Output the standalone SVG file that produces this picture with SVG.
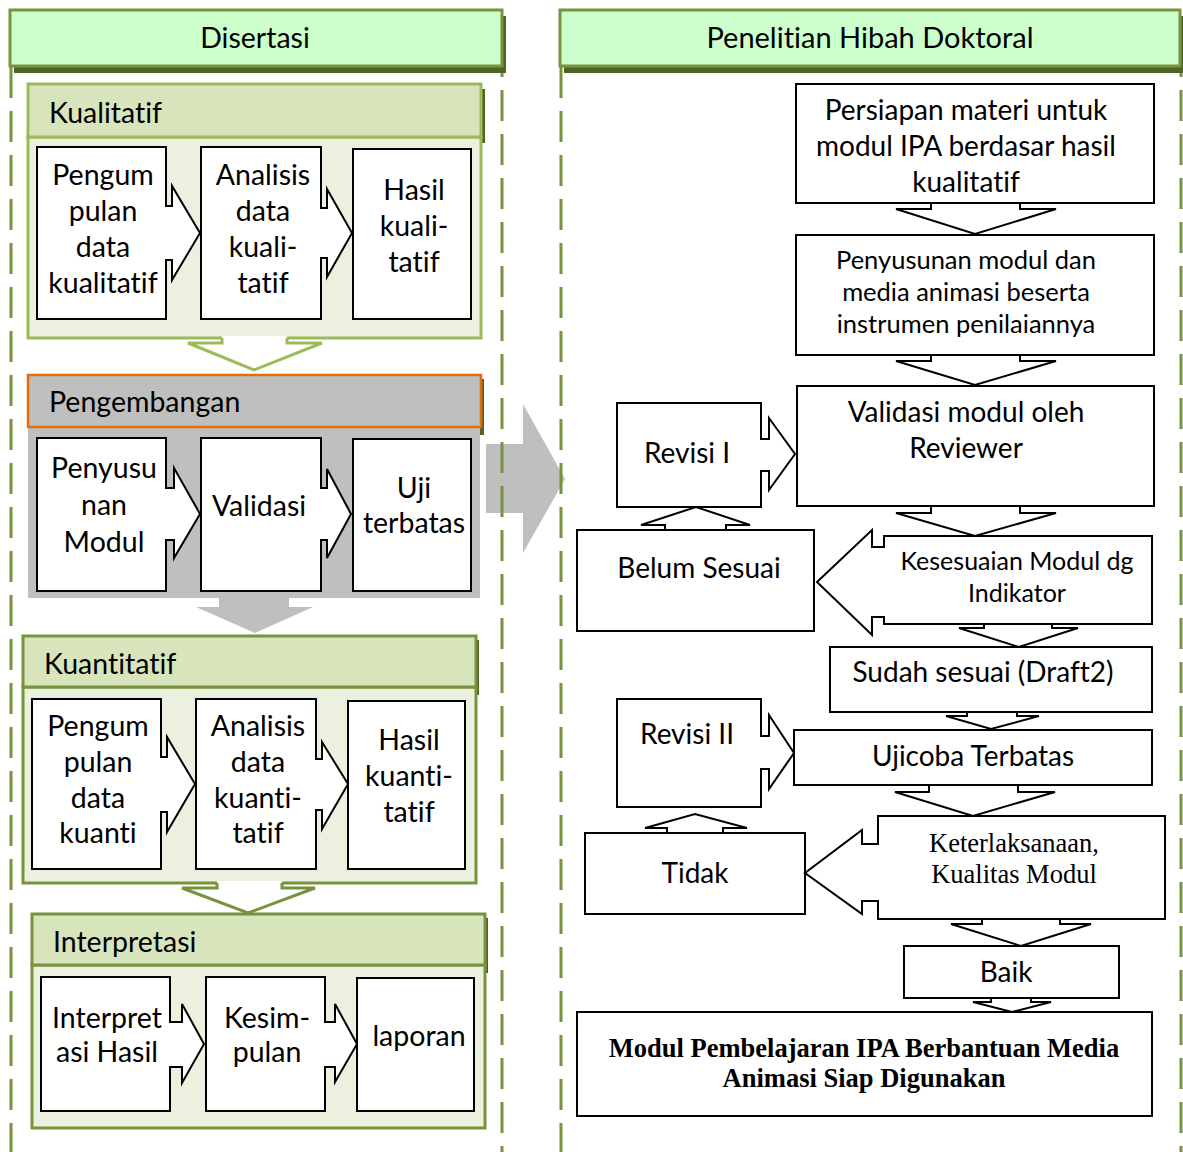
<svg xmlns="http://www.w3.org/2000/svg" width="1183" height="1152" viewBox="0 0 1183 1152">
<defs>
<style>
.t{font-family:Lato,"Liberation Sans",sans-serif;fill:#000;font-size:28.5px;font-variant-ligatures:none}
.r{font-size:28px}
.r2{font-size:25.5px}
.m{text-anchor:middle}
.s{font-family:"Liberation Serif","Times New Roman",serif;fill:#000;font-size:26.5px}
.bx{fill:#fff;stroke:#000;stroke-width:2}
.dash{fill:none;stroke:#77933c;stroke-width:3;stroke-dasharray:31 13}
.hd{fill:#ccffcc;stroke:#77933c;stroke-width:3}
.sh{fill:#4f6228}
.band{fill:#d7e4bc;stroke-width:3}
.body{fill:#ebf1de;stroke-width:3}
.lg{stroke:#9bbb59}
.dg{stroke:#77933c}
.gray{fill:#bfbfbf}
</style>
<clipPath id="clipPeng"><rect x="28" y="375" width="453" height="42"/></clipPath>
</defs>
<rect width="1183" height="1152" fill="#fff"/>

<g id="bigArrow"><polygon class="gray" points="486,444 523,444 523,404 565,479 523,553 523,513 486,513"/></g>

<g id="columns">
<line class="dash" x1="11" y1="67" x2="11" y2="1152"/>
<line class="dash" x1="502" y1="46" x2="502" y2="1152"/>
<line class="dash" x1="561" y1="67" x2="561" y2="1152"/>
<line class="dash" x1="1181" y1="46" x2="1181" y2="1152"/>
</g>

<g id="hdr-disertasi">
<rect class="sh" x="14" y="16" width="492" height="57"/>
<rect class="hd" x="10" y="10" width="492" height="56"/>
<text class="t m" x="255" y="48">Disertasi</text>
</g>
<g id="hdr-penelitian">
<rect class="sh" x="564" y="16" width="622" height="57"/>
<rect class="hd" x="560" y="10" width="620" height="56"/>
<text class="t m" x="870" y="48" style="font-size:29px">Penelitian Hibah Doktoral</text>
</g>

<!-- Kualitatif -->
<g id="kualitatif">
<rect class="sh" x="32" y="89" width="453" height="54"/>
<rect class="body lg" x="28" y="137" width="453" height="201"/>
<rect class="band lg" x="28" y="84" width="453" height="53"/>
<text class="t" x="49" y="123">Kualitatif</text>
</g>
<g id="k1"><path class="bx" d="M37,147 H166 V206 H172 V186 L200,233 L172,280 V260 H166 V319 H37 Z"/>
<text class="t m" x="103" y="185">Pengum</text><text class="t m" x="103" y="221">pulan</text><text class="t m" x="103" y="257">data</text><text class="t m" x="103" y="293">kualitatif</text></g>
<g id="k2"><path class="bx" d="M201,147 H321 V208 H327 V189 L352,233 L327,277 V258 H321 V319 H201 Z"/>
<text class="t m" x="263" y="185">Analisis</text><text class="t m" x="263" y="221">data</text><text class="t m" x="263" y="257">kuali-</text><text class="t m" x="263" y="293">tatif</text></g>
<g id="k3"><rect class="bx" x="353" y="149" width="118" height="170"/>
<text class="t m" x="414" y="200">Hasil</text><text class="t m" x="414" y="236">kuali-</text><text class="t m" x="414" y="272">tatif</text></g>

<!-- Pengembangan -->
<g id="pengembangan">
<rect class="sh" x="32" y="379" width="452" height="56"/>
<rect class="gray" x="28" y="427" width="452" height="171"/>
<rect x="28" y="375" width="453" height="52" fill="#bfbfbf" stroke="#e46c0a" stroke-width="2.5"/>
<text class="t" x="49" y="412" clip-path="url(#clipPeng)">Pengembangan</text>
</g>
<g id="p1"><path class="bx" d="M37,438 H166 V488 H174 V468 L200,514 L174,558 V540 H166 V591 H37 Z"/>
<text class="t m" x="104" y="478">Penyusu</text><text class="t m" x="104" y="515">nan</text><text class="t m" x="104" y="552">Modul</text></g>
<g id="p2"><path class="bx" d="M201,438 H321 V488 H327 V469 L351,514 L327,558 V540 H321 V591 H201 Z"/>
<text class="t m" x="259" y="516">Validasi</text></g>
<g id="p3"><rect class="bx" x="353" y="439" width="118" height="152"/>
<text class="t m" x="414" y="498">Uji</text><text class="t m" x="414" y="533">terbatas</text></g>

<!-- Kuantitatif -->
<g id="kuantitatif">
<rect class="sh" x="27" y="640" width="452" height="55"/>
<rect class="body dg" x="23" y="687" width="453" height="196"/>
<rect class="band dg" x="23" y="636" width="453" height="51"/>
<text class="t" x="44" y="674">Kuantitatif</text>
</g>
<g id="q1"><path class="bx" d="M32,699 H161 V757 H167 V737 L195,784 L167,832 V812 H161 V869 H32 Z"/>
<text class="t m" x="98" y="736">Pengum</text><text class="t m" x="98" y="772">pulan</text><text class="t m" x="98" y="808">data</text><text class="t m" x="98" y="843">kuanti</text></g>
<g id="q2"><path class="bx" d="M196,699 H316 V759 H322 V742 L348,784 L322,829 V810 H316 V869 H196 Z"/>
<text class="t m" x="258" y="736">Analisis</text><text class="t m" x="258" y="772">data</text><text class="t m" x="258" y="808">kuanti-</text><text class="t m" x="258" y="843">tatif</text></g>
<g id="q3"><rect class="bx" x="348" y="701" width="117" height="168"/>
<text class="t m" x="409" y="750">Hasil</text><text class="t m" x="409" y="786">kuanti-</text><text class="t m" x="409" y="822">tatif</text></g>

<!-- Interpretasi -->
<g id="interpretasi">
<rect class="sh" x="36" y="918" width="452" height="55"/>
<rect class="body dg" x="32" y="965" width="453" height="163"/>
<rect class="band dg" x="32" y="914" width="453" height="51"/>
<text class="t" x="53" y="952">Interpretasi</text>
</g>
<g id="i1"><path class="bx" d="M41,977 H170 V1022 H182 V1004 L204,1044 L182,1083 V1067 H170 V1111 H41 Z"/>
<text class="t m" x="107" y="1028">Interpret</text><text class="t m" x="107" y="1062">asi Hasil</text></g>
<g id="i2"><path class="bx" d="M206,977 H325 V1022 H335 V1004 L357,1044 L335,1082 V1067 H325 V1111 H206 Z"/>
<text class="t m" x="267" y="1028">Kesim-</text><text class="t m" x="267" y="1062">pulan</text></g>
<g id="i3"><rect class="bx" x="357" y="978" width="117" height="133"/>
<text class="t m" x="419" y="1046">laporan</text></g>

<!-- Right column nodes -->
<g id="persiapan"><rect class="bx" x="796" y="84" width="358" height="119"/>
<text class="t r m" x="966" y="120">Persiapan materi untuk</text><text class="t r m" x="966" y="156">modul IPA berdasar hasil</text><text class="t r m" x="966" y="192">kualitatif</text></g>
<g id="penyusunan"><rect class="bx" x="796" y="235" width="358" height="120"/>
<text class="t r2 m" x="966" y="269">Penyusunan modul dan</text><text class="t r2 m" x="966" y="301">media animasi beserta</text><text class="t r2 m" x="966" y="333">instrumen penilaiannya</text></g>
<g id="validasi"><rect class="bx" x="797" y="386" width="357" height="120"/>
<text class="t r m" x="966" y="422">Validasi modul oleh</text><text class="t r m" x="966" y="458">Reviewer</text></g>
<g id="revisi1"><path class="bx" d="M617,403 H761 V439 H769 V418 L795,454 L769,490 V471 H761 V507 H617 Z"/>
<text class="t r m" x="687" y="463">Revisi I</text></g>
<g id="belum"><rect class="bx" x="577" y="530" width="237" height="101"/>
<text class="t r m" x="699" y="578">Belum Sesuai</text></g>
<g id="kesesuaian"><path class="bx" d="M884,536 H1152 V624 H884 V617 H872 V635 L817,582 L872,530 V547 H884 Z"/>
<text class="t m" x="1017" y="570" style="font-size:25px">Kesesuaian Modul dg</text><text class="t m" x="1017" y="602" style="font-size:25px">Indikator</text></g>
<g id="sudah"><rect class="bx" x="830" y="647" width="322" height="65"/>
<text class="t r m" x="983" y="682">Sudah sesuai (Draft2)</text></g>
<g id="revisi2"><path class="bx" d="M617,699 H761 V736 H769 V715 L794,753 L769,789 V769 H761 V807 H617 Z"/>
<text class="t r m" x="687" y="744">Revisi II</text></g>
<g id="ujicoba"><rect class="bx" x="794" y="730" width="358" height="55"/>
<text class="t r m" x="973" y="766">Ujicoba Terbatas</text></g>
<g id="tidak"><rect class="bx" x="585" y="833" width="220" height="81"/>
<text class="t r m" x="695" y="883">Tidak</text></g>
<g id="keterlaksanaan"><path class="bx" d="M878,816 H1165 V919 H878 V901 H862 V914 L805,873 L862,830 V844 H878 Z"/>
<text class="s m" x="1014" y="852">Keterlaksanaan,</text><text class="s m" x="1014" y="883">Kualitas Modul</text></g>
<g id="baik"><rect class="bx" x="904" y="946" width="215" height="52"/>
<text class="t r m" x="1006" y="982">Baik</text></g>
<g id="final"><rect class="bx" x="577" y="1012" width="575" height="104"/>
<text class="s m" x="864" y="1057" style="font-weight:bold">Modul Pembelajaran IPA Berbantuan Media</text><text class="s m" x="864" y="1087" style="font-weight:bold">Animasi Siap Digunakan</text></g>

<!-- connectors -->
<g id="connectors">
<polygon points="222,336 222,343 188,343 254,370 322,343 287,343 287,336" fill="#fff"/>
<polyline points="222,338 222,343 188,343 254,370 322,343 287,343 287,338" fill="none" stroke="#9bbb59" stroke-width="3"/>
<polygon class="gray" points="219,598 289,598 289,607 313,607 255,633 196,607 219,607"/>
<polygon points="217,881 217,888 182,888 248,913 315,888 282,888 282,881" fill="#fff"/>
<polyline points="217,883 217,888 182,888 248,913 315,888 282,888 282,883" fill="none" stroke="#77933c" stroke-width="3"/>
<polygon class="bx" points="931,203 931,209 896,209 975,234 1056,209 1020,209 1020,203"/>
<polygon class="bx" points="931,355 931,361 896,361 975,385 1056,361 1020,361 1020,355"/>
<polygon class="bx" points="931,506 931,513 896,513 975,536 1056,513 1020,513 1020,506"/>
<polygon class="bx" points="665,530 665,525 641,525 696,507 750,525 726,525 726,530"/>
<polygon class="bx" points="984,624 984,628 959,628 1019,647 1078,628 1052,628 1052,624"/>
<polygon class="bx" points="967,712 967,716 946,716 991,729 1039,716 1017,716 1017,712"/>
<polygon class="bx" points="667,833 667,828 645,828 695,814 747,828 723,828 723,833"/>
<polygon class="bx" points="929,785 929,792 895,792 973,816 1055,792 1018,792 1018,785"/>
<polygon class="bx" points="982,919 982,924 951,924 1021,946 1091,924 1060,924 1060,919"/>
<polygon class="bx" points="991,998 991,1002 973,1002 1012,1012 1051,1002 1031,1002 1031,998"/>
</g>
</svg>
